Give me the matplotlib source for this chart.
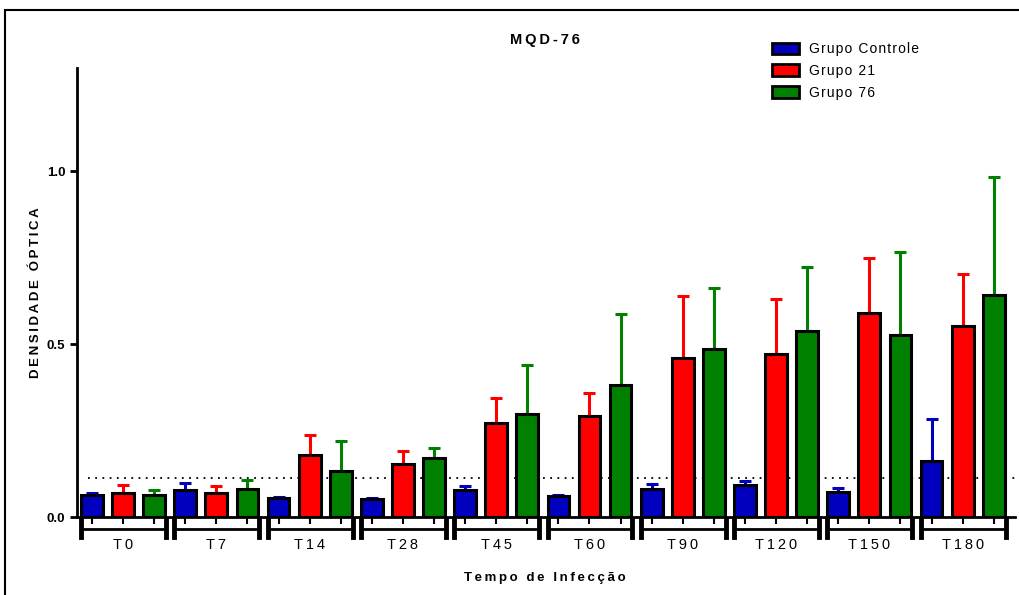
import matplotlib
matplotlib.use('Agg')
import matplotlib.pyplot as plt
import matplotlib.patches as mpatches
import matplotlib.transforms as mtransforms
import numpy as np

plt.rcParams['font.family'] = ['Liberation Sans', 'DejaVu Sans']

# data
times = ['T0', 'T7', 'T14', 'T28', 'T45', 'T60', 'T90', 'T120', 'T150', 'T180']
groups = ['Grupo Controle', 'Grupo 21', 'Grupo 76']
colors = ['#0000BE', '#FF0000', '#008000']

controle = [0.064, 0.078, 0.055, 0.052, 0.078, 0.061, 0.081, 0.092, 0.072, 0.162]
controle_err = [0.005, 0.020, 0.003, 0.003, 0.012, 0.003, 0.014, 0.012, 0.012, 0.121]
g21 = [0.069, 0.069, 0.179, 0.153, 0.272, 0.292, 0.460, 0.471, 0.590, 0.552]
g21_err = [0.023, 0.021, 0.058, 0.037, 0.072, 0.066, 0.179, 0.159, 0.161, 0.150]
g76 = [0.064, 0.081, 0.133, 0.171, 0.298, 0.382, 0.486, 0.538, 0.526, 0.642]
g76_err = [0.014, 0.026, 0.087, 0.029, 0.142, 0.205, 0.176, 0.187, 0.240, 0.341]
cutoff = 0.113

means = [controle, g21, g76]
errs = [controle_err, g21_err, g76_err]


def spaced(s, sep='\u200a'):
    return sep.join(s)


fig = plt.figure(figsize=(10.2, 5.95), dpi=100)
ax = fig.add_axes([0.0755, 0.131, 0.9195, 0.755])

n = len(times)
for j in range(3):
    x = np.arange(n) * 3 + j
    ax.bar(x, means[j], width=0.7, color=colors[j], edgecolor='black',
           linewidth=2.2, zorder=3)
    ax.errorbar(x, means[j], yerr=[np.zeros(n), errs[j]], fmt='none',
                ecolor=colors[j], elinewidth=2.2, capsize=4.5, capthick=2.2,
                zorder=2)

ax.axhline(cutoff, xmin=0.012, xmax=1, color='black', linestyle=(0, (1, 3)),
           linewidth=1.3, zorder=1)

ax.set_xlim(-0.48, 29.68)
ax.set_ylim(0, 1.30)
ax.set_yticks([0.0, 0.5, 1.0])
ax.set_yticklabels(['0.0', '0.5', '1.0'], fontweight='bold', fontsize=9.5)
ax.set_xticks(np.arange(n * 3))
ax.set_xticklabels([])
ax.tick_params(axis='x', length=5, width=1.5)
ax.tick_params(axis='y', length=5, width=2)

for s in ['top', 'right']:
    ax.spines[s].set_visible(False)
for s in ['left', 'bottom']:
    ax.spines[s].set_linewidth(2)

# group brackets below the axis
trans = mtransforms.blended_transform_factory(ax.transData, ax.transAxes)
for i, t in enumerate(times):
    x0 = 3 * i - 0.35
    x1 = 3 * i + 2.38
    ax.plot([x0, x1], [-0.026, -0.026], color='black', lw=2, transform=trans,
            clip_on=False)
    for xe in (x0, x1):
        ax.plot([xe, xe], [-0.007, -0.045], color='black', lw=3.5,
                transform=trans, clip_on=False)
    ax.text(3 * i + 1, -0.062, spaced(t, '\u2009'), transform=trans,
            ha='center', va='center', fontsize=10.5)

ax.set_ylabel(spaced('DENSIDADE ÓPTICA', '\u2009'), fontweight='bold',
              fontsize=9.5)
ax.yaxis.set_label_coords(-0.037, 0.5)
fig.text(0.534, 0.028, spaced('Tempo de Infecção', '\u2009'), ha='center',
         va='center', fontweight='bold', fontsize=9.5)
fig.text(0.534, 0.932, spaced('MQD-76', '\u2009'), ha='center', va='center',
         fontweight='bold', fontsize=10.5)

handles = [mpatches.Patch(facecolor=c, edgecolor='black', linewidth=2)
           for c in colors]
fig.legend(handles, [spaced(g) for g in groups], loc='upper left',
           bbox_to_anchor=(0.745, 0.95), frameon=False, fontsize=10,
           handlelength=1.9, handleheight=0.9, labelspacing=0.55,
           handletextpad=0.7)

# outer frame
fig.patches.append(mpatches.Rectangle((5 / 1020, -0.1), 1.2, 1 - 10 / 595 + 0.1,
                                      transform=fig.transFigure, fill=False,
                                      edgecolor='black', linewidth=1.5))

fig.savefig('out.png', dpi=100)
